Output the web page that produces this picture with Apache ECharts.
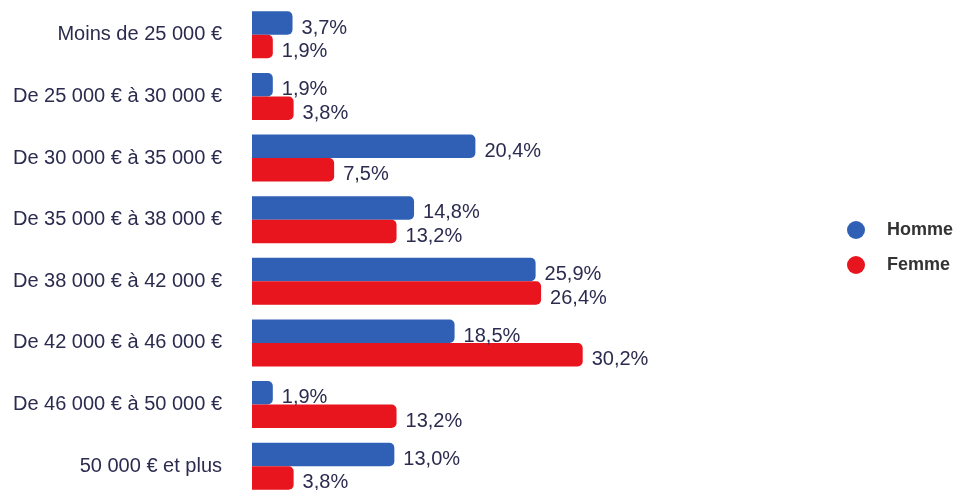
<!DOCTYPE html>
<html>
<head>
<meta charset="utf-8">
<script src="https://cdn.jsdelivr.net/npm/echarts@6/dist/echarts.min.js"></script>
<style>
html,body{margin:0;padding:0;background:#fff;overflow:hidden;}
#chart{width:958px;height:497px;}
</style>
</head>
<body>
<div id="chart"></div>
<script>
var categories = [
  "Moins de 25 000 €",
  "De 25 000 € à 30 000 €",
  "De 30 000 € à 35 000 €",
  "De 35 000 € à 38 000 €",
  "De 38 000 € à 42 000 €",
  "De 42 000 € à 46 000 €",
  "De 46 000 € à 50 000 €",
  "50 000 € et plus"
];
var homme = [3.7, 1.9, 20.4, 14.8, 25.9, 18.5, 1.9, 13.0];
var femme = [1.9, 3.8, 7.5, 13.2, 26.4, 30.2, 13.2, 3.8];
var seriesNames = ["Homme", "Femme"];

var font = "Liberation Sans, Arial, sans-serif";
function fmt(p) { return p.value.toFixed(1).replace('.', ',') + '%'; }

var chart = echarts.init(document.getElementById('chart'));
chart.setOption({
  backgroundColor: '#ffffff',
  animation: false,
  grid: { left: 252, top: 4, width: 438, height: 493, containLabel: false },
  legend: {
    orient: 'vertical',
    left: 842, top: 216,
    icon: 'circle',
    itemWidth: 18, itemHeight: 18, itemGap: 17,
    data: seriesNames,
    textStyle: { fontFamily: font, fontSize: 18, fontWeight: 'bold', color: '#333333', padding: [0, 0, 0, 17] }
  },
  xAxis: {
    type: 'value', min: 0, max: 40,
    show: false
  },
  yAxis: {
    type: 'category', inverse: true, data: categories,
    axisLine: { show: false }, axisTick: { show: false },
    axisLabel: { margin: 30, fontFamily: font, fontSize: 20, color: '#2b2b50', padding: [6, 0, 0, 0] }
  },
  series: [
    {
      name: seriesNames[0], type: 'bar', data: homme,
      barWidth: 23.5, barGap: '0%',
      itemStyle: { color: '#3060b5', borderRadius: [0, 5, 5, 0] },
      label: { show: true, position: 'right', distance: 9, offset: [0, 5], formatter: fmt,
               fontFamily: font, fontSize: 20, color: '#2b2b50' }
    },
    {
      name: seriesNames[1], type: 'bar', data: femme,
      barWidth: 23.5, barGap: '0%',
      itemStyle: { color: '#e8141e', borderRadius: [0, 5, 5, 0] },
      label: { show: true, position: 'right', distance: 9, offset: [0, 5], formatter: fmt,
               fontFamily: font, fontSize: 20, color: '#2b2b50' }
    }
  ]
});
</script>
</body>
</html>
